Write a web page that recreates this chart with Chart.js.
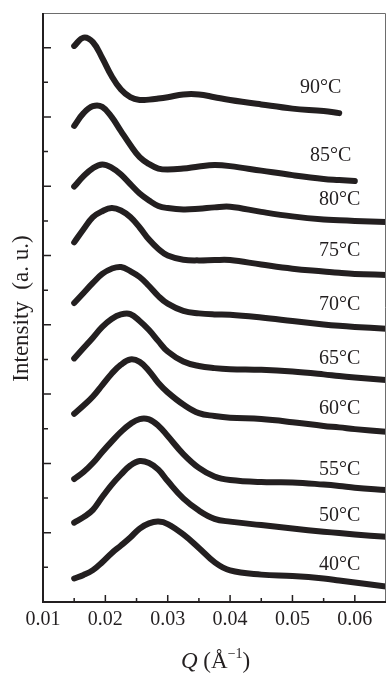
<!DOCTYPE html>
<html>
<head>
<meta charset="utf-8">
<script src="https://cdn.jsdelivr.net/npm/chart.js@4"></script>
<style>
  body { margin: 0; background: #fff; }
  canvas { display: block; }
</style>
</head>
<body>
<canvas id="chart" width="387" height="673"></canvas>
<script>
// scattering vector Q (1/A), shared by all curves
const qValues = [0.015, 0.0165, 0.018, 0.0195, 0.021, 0.0225, 0.024, 0.0255, 0.027, 0.0285,
  0.03, 0.0325, 0.035, 0.0375, 0.04, 0.045, 0.05, 0.055, 0.0575, 0.06, 0.065]

// intensity (a. u., already offset) for each temperature
const i90 = [16.05, 16.29, 16.16, 15.70, 15.18, 14.79, 14.57, 14.49, 14.50, 14.53, 14.57, 14.65, 14.65, 14.57, 14.49, 14.36, 14.24, 14.17, 14.11, null, null]
const i85 = [13.74, 14.11, 14.31, 14.29, 14.00, 13.59, 13.19, 12.84, 12.64, 12.51, 12.48, 12.51, 12.57, 12.61, 12.58, 12.45, 12.32, 12.21, 12.18, 12.15, null]
const i80 = [11.99, 12.29, 12.52, 12.63, 12.54, 12.34, 12.06, 11.79, 11.59, 11.43, 11.37, 11.33, 11.35, 11.39, 11.41, 11.26, 11.13, 11.04, 11.02, 11.00, 10.97]
const i75 = [10.38, 10.76, 11.11, 11.28, 11.37, 11.30, 11.11, 10.81, 10.46, 10.19, 10.00, 9.88, 9.86, 9.87, 9.87, 9.74, 9.62, 9.54, 9.50, 9.47, 9.44]
const i70 = [8.63, 8.92, 9.21, 9.47, 9.62, 9.67, 9.55, 9.38, 9.12, 8.83, 8.61, 8.40, 8.33, 8.30, 8.29, 8.21, 8.11, 8.01, 7.97, 7.94, 7.89]
const i65 = [7.03, 7.33, 7.63, 7.94, 8.17, 8.30, 8.31, 8.11, 7.85, 7.53, 7.23, 6.94, 6.81, 6.75, 6.72, 6.70, 6.65, 6.57, 6.52, 6.48, 6.41]
const i60 = [5.43, 5.67, 5.93, 6.26, 6.59, 6.85, 7.00, 6.93, 6.67, 6.32, 6.05, 5.70, 5.45, 5.37, 5.32, 5.28, 5.19, 5.08, 5.04, 4.99, 4.91]
const i55 = [3.55, 3.75, 4.01, 4.33, 4.63, 4.91, 5.14, 5.28, 5.27, 5.09, 4.79, 4.27, 3.87, 3.62, 3.52, 3.46, 3.45, 3.39, 3.35, 3.30, 3.23]
const i50 = [2.29, 2.45, 2.66, 3.03, 3.38, 3.68, 3.94, 4.07, 4.01, 3.82, 3.49, 2.99, 2.64, 2.40, 2.32, 2.22, 2.12, 2.03, 1.99, 1.95, 1.88]
const i40 = [0.68, 0.78, 0.92, 1.15, 1.41, 1.63, 1.86, 2.12, 2.27, 2.32, 2.25, 1.95, 1.56, 1.15, 0.91, 0.79, 0.75, 0.68, 0.62, 0.56, 0.45]

const series = [i90, i85, i80, i75, i70, i65, i60, i55, i50, i40]
const tempLabels = ['90°C', '85°C', '80°C', '75°C', '70°C', '65°C', '60°C', '55°C', '50°C', '40°C']

// where each temperature label sits (right edge Q, intensity)
const labelQ = [0.05785, 0.05944, 0.06088, 0.06088, 0.06088, 0.06088, 0.06088, 0.06088, 0.06088, 0.06088]
const labelI = [14.85, 12.87, 11.60, 10.13, 8.57, 7.01, 5.57, 3.81, 2.48, 1.07]

const xTicks = [0.01, 0.02, 0.03, 0.04, 0.05, 0.06]
const xMinorTicks = [0.015, 0.025, 0.035, 0.045, 0.055]
const yTicks = [1, 2, 3, 4, 5, 6, 7, 8, 9, 10, 11, 12, 13, 14, 15, 16]

const ink = '#231f20'
const serif = '"Liberation Serif", "Times New Roman", serif'

const datasets = series.map((vals, n) => ({
  label: tempLabels[n],
  data: qValues.map((q, i) => ({ x: q, y: vals[i] })).filter(p => p.y !== null),
  borderColor: ink,
  borderWidth: 6,
  borderCapStyle: 'round',
  borderJoinStyle: 'round',
  pointRadius: 0,
  tension: 0.4,
  fill: false,
}))

const decor = {
  id: 'decor',
  afterDraw(chart) {
    const { ctx, chartArea: a, scales: { x, y } } = chart
    ctx.save()
    // frame
    ctx.strokeStyle = '#6d6d6d'
    ctx.lineWidth = 1
    ctx.beginPath()
    ctx.moveTo(a.left, a.top + 0.5)
    ctx.lineTo(a.right - 0.5, a.top + 0.5)
    ctx.lineTo(a.right - 0.5, a.bottom)
    ctx.stroke()
    ctx.strokeStyle = ink
    ctx.lineWidth = 2
    ctx.beginPath()
    ctx.moveTo(a.left, a.top)
    ctx.lineTo(a.left, a.bottom)
    ctx.lineTo(a.right, a.bottom)
    ctx.stroke()

    // inward ticks
    ctx.lineWidth = 1.5
    ctx.beginPath()
    xTicks.forEach(v => {
      const px = x.getPixelForValue(v)
      ctx.moveTo(px, a.bottom); ctx.lineTo(px, a.bottom - 7)
    })
    xMinorTicks.forEach(v => {
      const px = x.getPixelForValue(v)
      ctx.moveTo(px, a.bottom); ctx.lineTo(px, a.bottom - 4)
    })
    yTicks.forEach(v => {
      const py = y.getPixelForValue(v)
      ctx.moveTo(a.left, py); ctx.lineTo(a.left + (v % 2 === 0 ? 8 : 5), py)
    })
    ctx.stroke()

    // temperature labels
    ctx.fillStyle = ink
    ctx.font = '20px ' + serif
    ctx.textAlign = 'right'
    ctx.textBaseline = 'middle'
    tempLabels.forEach((t, n) => {
      ctx.fillText(t, x.getPixelForValue(labelQ[n]), y.getPixelForValue(labelI[n]))
    })

    // y title
    ctx.save()
    ctx.translate(22, (a.top + a.bottom) / 2 + 1)
    ctx.rotate(-Math.PI / 2)
    ctx.textAlign = 'center'
    ctx.font = '23px ' + serif
    ctx.fillText('Intensity  (a. u.)', 0, 0)
    ctx.restore()

    // x title: Q (Å^-1)
    ctx.textAlign = 'left'
    ctx.textBaseline = 'alphabetic'
    let cx = 181
    const base = 668
    ctx.font = 'italic 23px ' + serif
    ctx.fillText('Q', cx, base)
    cx += ctx.measureText('Q').width
    ctx.font = '23px ' + serif
    ctx.fillText(' (Å', cx, base)
    cx += ctx.measureText(' (Å').width
    ctx.font = '14px ' + serif
    ctx.fillText('−1', cx, base - 10)
    cx += ctx.measureText('−1').width
    ctx.font = '23px ' + serif
    ctx.fillText(')', cx, base)
    ctx.restore()
  }
}

new Chart('chart', {
  type: 'line',
  data: { datasets },
  options: {
    responsive: false,
    animation: false,
    devicePixelRatio: 1,
    layout: { padding: { top: 13, right: 1, left: 0, bottom: 0 } },
    plugins: { legend: { display: false }, tooltip: { enabled: false } },
    scales: {
      x: {
        type: 'linear',
        min: 0.01,
        max: 0.065,
        afterBuildTicks: scale => { scale.ticks = xTicks.map(v => ({ value: v })) },
        afterFit: scale => { scale.height = 71 },
        grid: { display: false, drawTicks: false },
        border: { display: false },
        ticks: {
          padding: 6,
          color: ink,
          font: { family: serif, size: 20 },
          maxRotation: 0,
          callback: v => v.toFixed(2),
        },
      },
      y: {
        min: 0,
        max: 17,
        afterFit: scale => { scale.width = 43 },
        grid: { display: false, drawTicks: false },
        border: { display: false },
        ticks: { display: false },
      },
    },
  },
  plugins: [decor],
})
</script>
</body>
</html>
